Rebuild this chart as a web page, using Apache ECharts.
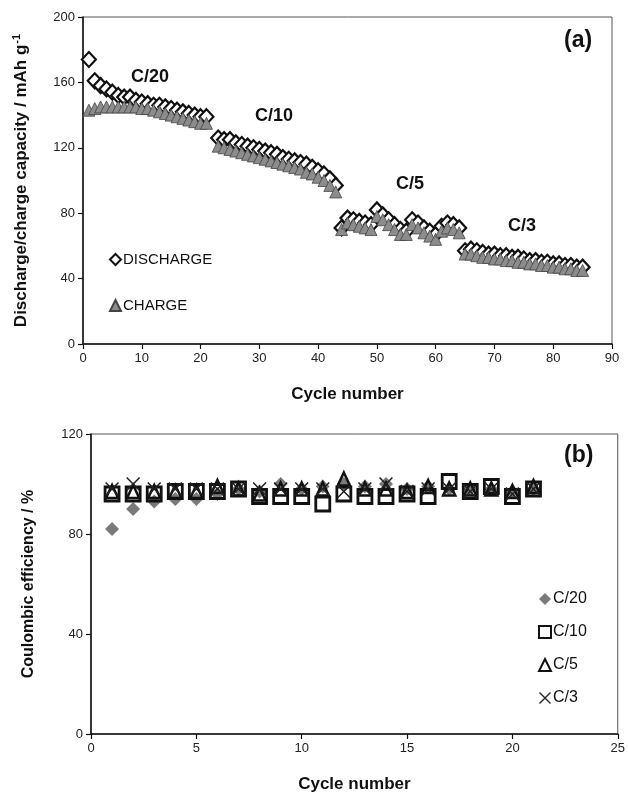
<!DOCTYPE html>
<html><head><meta charset="utf-8">
<script src="https://cdn.jsdelivr.net/npm/echarts@6/dist/echarts.min.js"></script>
<style>html,body{margin:0;padding:0;background:#fff}#c{width:628px;height:794px}</style>
</head><body><div id="c"></div>
<script>
// ---- Panel (a): capacity vs cycle ----
const cyclesC20 = [1,2,3,4,5,6,7,8,9,10,11,12,13,14,15,16,17,18,19,20,21];
const cyclesC10 = [23,24,25,26,27,28,29,30,31,32,33,34,35,36,37,38,39,40,41,42,43];
const cyclesC5  = [44,45,46,47,48,49,50,51,52,53,54,55,56,57,58,59,60,61,62,63,64];
const cyclesC3  = [65,66,67,68,69,70,71,72,73,74,75,76,77,78,79,80,81,82,83,84,85];
const dischargeC20 = [174,161,158,156,154,152,151,151,149,148,147,146,146,145,144,143,142,141,140,139,139];
const chargeC20    = [143,144,145,145,145,145,145,145,145,144,144,143,142,141,140,139,138,137,136,135,135];
const dischargeC10 = [126,125,125,123,122,121,120,119,118,117,116,114,113,112,111,110,108,106,104,101,97];
const chargeC10    = [121,120,119,118,117,116,115,114,113,112,111,110,109,108,107,105,104,102,100,97,93];
const dischargeC5  = [71,77,76,75,74,73,82,79,76,73,70,69,76,74,71,69,67,72,74,73,71];
const chargeC5     = [70,74,73,72,71,70,78,76,73,70,67,67,73,71,68,66,64,69,71,70,68];
const dischargeC3  = [57,58,57,56,55,55,54,54,53,53,52,51,51,50,50,49,49,48,48,47,47];
const chargeC3     = [55,55,54,53,53,52,52,51,51,50,50,49,49,48,48,47,47,46,46,45,45];
const rateLabels = ['C/20','C/10','C/5','C/3'];

// ---- Panel (b): coulombic efficiency ----
const effCycles = [1,2,3,4,5,6,7,8,9,10,11,12,13,14,15,16,17,18,19,20,21];
const effC20 = [82,90,93,94,94,96,98,97,100,98,99,100,99,100,98,99,98,98,98,97,98];
const effC10 = [96,96,96,97,97,97,98,95,95,95,92,96,95,95,96,95,101,97,99,95,98];
const effC5  = [97,97,97,97,97,99,98,96,98,98,98,102,98,98,97,99,98,98,98,97,99];
const effC3  = [98,100,98,98,98,98,98,98,98,98,98,97,98,100,97,98,98,97,98,96,98];

const capX = [0,90,10], capY = [0,200,40];
const effX = [0,25,5],  effY = [0,120,40];

function pairs(xs, ys){ return xs.map((x,i)=>[x, ys[i]]); }
const FONT = 'Liberation Sans, Arial, sans-serif';
const crossPath = 'path://M0,0.8 L0.8,0 L5,4.2 L9.2,0 L10,0.8 L5.8,5 L10,9.2 L9.2,10 L5,5.8 L0.8,10 L0,9.2 L4.2,5 Z';

const axisCommon = {
  axisLine:{show:true, onZero:false, lineStyle:{color:'#111', width:1.5}},
  axisTick:{show:true, length:5, lineStyle:{color:'#111', width:1.2}},
  axisLabel:{color:'#222', fontSize:13, fontFamily:FONT},
  splitLine:{show:false}
};
const nameStyle = {fontWeight:'bold', fontSize:17, color:'#111', fontFamily:FONT};

const chart = echarts.init(document.getElementById('c'), null, {renderer:'canvas'});
chart.setOption({
  animation:false,
  backgroundColor:'#fff',
  grid:[
    {left:83, top:17, width:529, height:327, show:true, borderColor:'#555', borderWidth:1},
    {left:91, top:434, width:527, height:302, show:true, borderColor:'#555', borderWidth:1}
  ],
  xAxis:[
    Object.assign({}, axisCommon, {gridIndex:0, type:'value', min:capX[0], max:capX[1], interval:capX[2],
      name:'Cycle number', nameLocation:'middle', nameGap:42, nameTextStyle:nameStyle}),
    Object.assign({}, axisCommon, {gridIndex:1, type:'value', min:effX[0], max:effX[1], interval:effX[2],
      name:'Cycle number', nameLocation:'middle', nameGap:42, nameTextStyle:nameStyle})
  ],
  yAxis:[
    Object.assign({}, axisCommon, {gridIndex:0, type:'value', min:capY[0], max:capY[1], interval:capY[2],
      name:'Discharge/charge capacity / mAh g{sup|-1}', nameLocation:'middle', nameGap:52,
      nameTextStyle:Object.assign({}, nameStyle, {fontSize:17, rich:{sup:{fontSize:11, fontWeight:'bold', fontFamily:FONT, color:'#111', padding:[0,0,9,1]}}})}),
    Object.assign({}, axisCommon, {gridIndex:1, type:'value', min:effY[0], max:effY[1], interval:effY[2],
      name:'Coulombic efficiency / %', nameLocation:'middle', nameGap:54,
      nameTextStyle:Object.assign({}, nameStyle, {fontSize:16})})
  ],
  legend:[
    {data:['DISCHARGE','CHARGE'], orient:'vertical', left:104, top:247, itemGap:31, itemWidth:11, itemHeight:11,
     textStyle:{fontSize:15, color:'#111', fontFamily:FONT, padding:[0,0,0,-3]}},
    {data:rateLabels, orient:'vertical', left:533, top:586, itemGap:17, itemWidth:12, itemHeight:12,
     textStyle:{fontSize:16, color:'#111', fontFamily:FONT, padding:[0,0,0,-3]}}
  ],
  graphic:[
    {type:'text', left:131, top:68, style:{text:'C/20', font:'bold 18px '+FONT, fill:'#111'}},
    {type:'text', left:255, top:107, style:{text:'C/10', font:'bold 18px '+FONT, fill:'#111'}},
    {type:'text', left:396, top:175, style:{text:'C/5', font:'bold 18px '+FONT, fill:'#111'}},
    {type:'text', left:508, top:217, style:{text:'C/3', font:'bold 18px '+FONT, fill:'#111'}},
    {type:'text', left:564, top:29, style:{text:'(a)', font:'bold 23px '+FONT, fill:'#111'}},
    {type:'text', left:564, top:444, style:{text:'(b)', font:'bold 23px '+FONT, fill:'#111'}}
  ],
  series:[
    {name:'DISCHARGE', type:'scatter', xAxisIndex:0, yAxisIndex:0, symbol:'diamond', symbolSize:[14,15],
     itemStyle:{color:'#fff', borderColor:'#111', borderWidth:2.2, opacity:1},
     data:pairs(cyclesC20.concat(cyclesC10, cyclesC5, cyclesC3), dischargeC20.concat(dischargeC10, dischargeC5, dischargeC3))},
    {name:'CHARGE', type:'scatter', xAxisIndex:0, yAxisIndex:0, symbol:'triangle', symbolSize:[12,12],
     itemStyle:{color:'#8c8c8c', borderColor:'#444', borderWidth:0.8, opacity:1},
     data:pairs(cyclesC20.concat(cyclesC10, cyclesC5, cyclesC3), chargeC20.concat(chargeC10, chargeC5, chargeC3))},
    {name:'C/20', type:'scatter', xAxisIndex:1, yAxisIndex:1, symbol:'diamond', symbolSize:[14,14],
     itemStyle:{color:'#7a7a7a', opacity:1}, data:pairs(effCycles, effC20)},
    {name:'C/10', type:'scatter', xAxisIndex:1, yAxisIndex:1, symbol:'rect', symbolSize:[14,14],
     itemStyle:{color:'rgba(255,255,255,0)', borderColor:'#111', borderWidth:2.8, opacity:1}, data:pairs(effCycles, effC10)},
    {name:'C/5', type:'scatter', xAxisIndex:1, yAxisIndex:1, symbol:'triangle', symbolSize:[12,13],
     itemStyle:{color:'rgba(255,255,255,0)', borderColor:'#111', borderWidth:2.6, opacity:1}, data:pairs(effCycles, effC5)},
    {name:'C/3', type:'scatter', xAxisIndex:1, yAxisIndex:1, symbol:crossPath, symbolSize:[14,14],
     itemStyle:{color:'#222', opacity:1}, data:pairs(effCycles, effC3)}
  ]
});
</script></body></html>
